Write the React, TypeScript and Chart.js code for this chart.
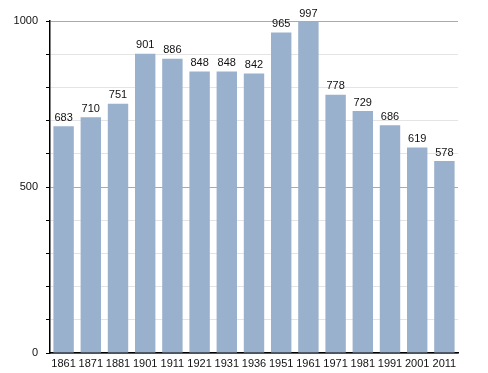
import React, { useEffect, useRef } from "react";
import { Chart, registerables } from "chart.js";

Chart.register(...registerables);

const years = ["1861", "1871", "1881", "1901", "1911", "1921", "1931", "1936", "1951", "1961", "1971", "1981", "1991", "2001", "2011"];
const population = [683, 710, 751, 901, 886, 848, 848, 842, 965, 997, 778, 729, 686, 619, 578];
const yLabelValues = [0, 500, 1000];

const FONT = "'Liberation Sans', Arial, sans-serif";

const valueLabels = {
  id: "valueLabels",
  afterDatasetsDraw(chart: any) {
    const ctx = chart.ctx;
    const meta = chart.getDatasetMeta(0);
    ctx.save();
    ctx.font = `11px ${FONT}`;
    ctx.fillStyle = "#111";
    ctx.textAlign = "center";
    ctx.textBaseline = "bottom";
    meta.data.forEach((bar: any, i: number) => {
      ctx.fillText(String(population[i]), bar.x, bar.y - 3);
    });
    ctx.restore();
  },
};

export default function App() {
  const ref = useRef<HTMLCanvasElement>(null);
  useEffect(() => {
    document.body.style.margin = "0";
    const chart = new Chart(ref.current!, {
      type: "bar",
      data: {
        labels: years,
        datasets: [
          {
            data: population,
            backgroundColor: "#99b1cc",
            borderWidth: 0,
            barPercentage: 0.75,
            categoryPercentage: 1,
          },
        ],
      },
      options: {
        animation: false,
        responsive: false,
        maintainAspectRatio: false,
        layout: { padding: { top: 21, right: 30, left: 0, bottom: 0 } },
        plugins: { legend: { display: false }, tooltip: { enabled: false } },
        scales: {
          x: {
            grid: { display: false, drawTicks: false },
            border: { display: true, color: "#000", width: 1.5 },
            ticks: { font: { family: FONT, size: 11 }, color: "#111", padding: 4, maxRotation: 0, autoSkip: false },
            afterFit: (s: any) => { s.height = 20; },
          },
          y: {
            min: 0,
            max: 1000,
            grid: {
              color: (c: any) => (c.tick && c.tick.value % 500 === 0 ? "#aaaaaa" : "#e4e4e4"),
              tickColor: "#000",
              tickLength: 4,
              lineWidth: 1,
            },
            border: { display: true, color: "#000", width: 1.5 },
            ticks: {
              stepSize: 100,
              font: { family: FONT, size: 11 },
              color: "#111",
              padding: 8,
              callback: (v: any) => (yLabelValues.includes(Number(v)) ? String(v) : ""),
            },
            afterFit: (s: any) => { s.width = 50; },
          },
        },
      },
      plugins: [valueLabels],
    });
    return () => chart.destroy();
  }, []);
  return (
    <div style={{ width: 488, height: 373 }}>
      <canvas ref={ref} width={488} height={373} style={{ display: "block" }} />
    </div>
  );
}
